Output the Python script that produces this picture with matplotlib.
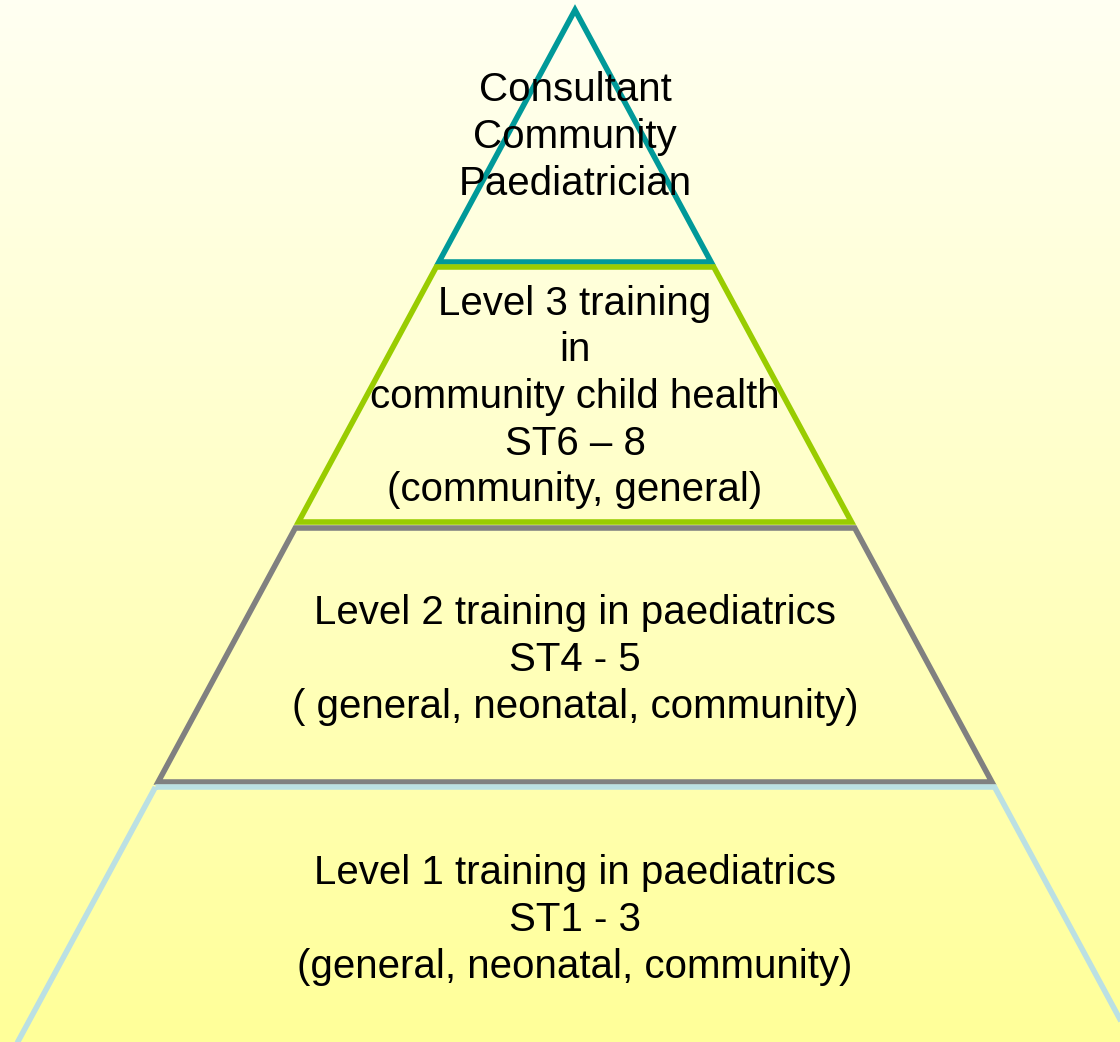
import numpy as np
import matplotlib.pyplot as plt
from matplotlib.patches import Polygon

# Tiers of the pyramid, from the top down
labels = [
    "Consultant\nCommunity\nPaediatrician",
    "Level 3 training\nin\ncommunity child health\nST6 \u2013 8\n(community, general)",
    "Level 2 training in paediatrics\nST4 - 5\n( general, neonatal, community)",
    "Level 1 training in paediatrics\nST1 - 3\n(general, neonatal, community)",
]
edge_colors = ["#009999", "#99CC00", "#808080", "#BBE0E3"]
tier_top = [10, 267, 528, 787]
tier_bottom = [262, 522, 782, 1060]

# Pyramid geometry (pixel space)
W, H = 1120, 1042
cx, apex_y, slope = 575, 10, 0.54

fig = plt.figure(figsize=(W / 100, H / 100), dpi=100)
ax = fig.add_axes([0, 0, 1, 1])
ax.set_xlim(0, W)
ax.set_ylim(H, 0)
ax.axis('off')

# Background gradient: pale cream at top to yellow at bottom
grad = np.linspace(0, 1, 256).reshape(-1, 1)
top = np.array([1.0, 1.0, 0.95])
bot = np.array([1.0, 1.0, 0.60])
img = top + grad[..., None] * (bot - top)
ax.imshow(img, extent=[0, W, H, 0], aspect='auto', zorder=0)

for lab, col, y0, y1 in zip(labels, edge_colors, tier_top, tier_bottom):
    hw0 = (y0 - apex_y) * slope
    hw1 = (y1 - apex_y) * slope
    pts = [(cx - hw0, y0), (cx + hw0, y0), (cx + hw1, y1), (cx - hw1, y1)]
    ax.add_patch(Polygon(pts, closed=True, fill=False, edgecolor=col,
                         linewidth=4, joinstyle='miter', zorder=2))

# Text positions
text_y = [137, 397, 660, 920]
for lab, ty in zip(labels, text_y):
    ax.text(cx, ty, lab, ha='center', va='center', fontsize=29,
            family='Liberation Sans', linespacing=1.29, color='black', zorder=3)

plt.savefig('out.png', dpi=100)
